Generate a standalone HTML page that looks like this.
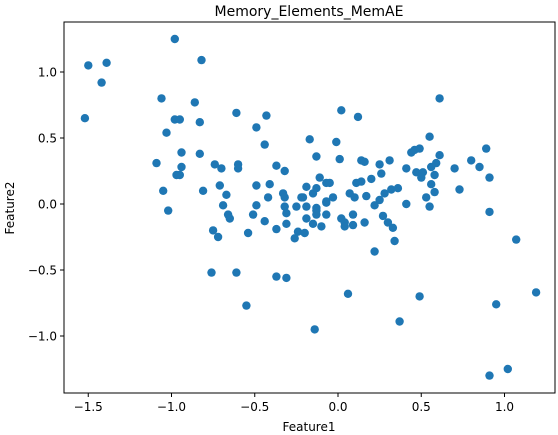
<!DOCTYPE html>
<html><head><meta charset="utf-8"><style>
html,body{margin:0;padding:0;background:#fff;}
svg{display:block;font-family:"DejaVu Sans","Liberation Sans",sans-serif;}
</style></head><body>
<svg id="chart" width="558" height="435">
  <text x="309" y="16" text-anchor="middle" font-size="14" fill="#000">Memory_Elements_MemAE</text>
  <text x="309" y="431" text-anchor="middle" font-size="12" fill="#000">Feature1</text>
  <text x="0" y="0" transform="translate(14,208) rotate(-90)" text-anchor="middle" font-size="12" fill="#000">Feature2</text>
  <g id="points"></g>
  <g id="xticks"></g>
  <g id="yticks"></g>
  <rect x="64" y="22" width="491" height="371" fill="none" stroke="#000" stroke-width="1"/>
</svg>
<script>
const xValues = [-1.50,-1.39,-1.42,-1.52,-0.98,-0.82,-1.06,-0.86,-0.98,-0.95,-0.83,-1.03,-0.61,-0.43,-0.49,-0.44,-0.17,-0.94,-0.83,-1.09,-0.94,-0.97,-0.95,-0.74,-0.70,-0.60,-0.60,-0.37,-0.32,-1.05,-0.81,-0.71,-0.67,-0.49,-0.41,-0.42,-0.33,-0.32,-0.22,-0.19,-0.69,-0.49,-0.32,-0.25,-0.19,-1.02,-0.51,-0.66,-0.65,-0.44,-0.31,-0.19,-0.31,-0.37,-0.54,-0.75,-0.72,-0.24,-0.26,-0.20,-0.76,-0.61,-0.37,-0.31,-0.55,-0.14,-0.13,-0.01,0.01,-0.15,-0.13,-0.11,-0.07,-0.03,-0.07,-0.13,-0.13,-0.10,-0.07,0.02,0.61,0.02,0.12,0.14,0.16,0.25,0.26,0.31,0.41,0.55,0.44,0.46,0.49,0.61,0.59,0.56,0.47,0.51,0.50,0.58,0.56,0.58,0.53,0.55,0.70,0.80,0.85,0.89,0.91,0.73,0.91,0.41,-0.21,-0.07,0.07,0.10,0.11,0.14,0.20,0.17,0.22,0.25,0.28,0.32,0.36,1.07,-0.15,0.04,0.04,0.09,0.09,0.16,0.27,0.30,0.33,0.34,0.22,0.06,0.49,0.37,0.95,1.19,0.91,1.02,-0.05,-0.13];
const yValues = [1.05,1.07,0.92,0.65,1.25,1.09,0.80,0.77,0.64,0.64,0.62,0.54,0.69,0.67,0.58,0.45,0.49,0.39,0.38,0.31,0.28,0.22,0.22,0.30,0.27,0.30,0.27,0.29,0.25,0.10,0.10,0.14,0.07,0.14,0.15,0.05,0.08,0.05,0.05,0.13,-0.01,-0.01,-0.02,-0.02,-0.02,-0.05,-0.08,-0.08,-0.11,-0.13,-0.07,-0.11,-0.15,-0.19,-0.22,-0.20,-0.25,-0.21,-0.26,-0.22,-0.52,-0.52,-0.55,-0.56,-0.77,-0.95,0.36,0.47,0.34,0.08,0.12,0.20,0.16,0.05,0.02,-0.05,-0.08,-0.17,-0.08,-0.11,0.80,0.71,0.66,0.33,0.32,0.30,0.23,0.33,0.27,0.51,0.39,0.41,0.42,0.37,0.31,0.28,0.24,0.24,0.20,0.22,0.15,0.09,0.05,-0.02,0.27,0.33,0.28,0.42,0.20,0.11,-0.06,0.00,0.05,0.01,0.08,0.05,0.16,0.17,0.19,0.06,-0.01,0.03,0.08,0.11,0.12,-0.27,-0.15,-0.14,-0.17,-0.16,-0.08,-0.14,-0.09,-0.14,-0.18,-0.28,-0.36,-0.68,-0.70,-0.89,-0.76,-0.67,-1.30,-1.25,0.16,-0.03];
const xTickValues = [-1.5,-1.0,-0.5,0.0,0.5,1.0];
const xTickLabels = ["\u22121.5","\u22121.0","\u22120.5","0.0","0.5","1.0"];
const yTickValues = [1.0,0.5,0.0,-0.5,-1.0];
const yTickLabels = ["1.0","0.5","0.0","\u22120.5","\u22121.0"];

const NS = "http://www.w3.org/2000/svg";
function sx(v){ return 338 + v*166.5; }
function sy(v){ return 204 - v*132; }
const pts = document.getElementById('points');
for (let i=0;i<xValues.length;i++){
  const c = document.createElementNS(NS,'circle');
  c.setAttribute('cx', sx(xValues[i]).toFixed(1));
  c.setAttribute('cy', sy(yValues[i]).toFixed(1));
  c.setAttribute('r', 4.2);
  c.setAttribute('fill', '#1f77b4');
  
  
  pts.appendChild(c);
}
const xg = document.getElementById('xticks');
xTickValues.forEach((v,i)=>{
  const x = sx(v);
  const l = document.createElementNS(NS,'line');
  l.setAttribute('x1',x); l.setAttribute('x2',x);
  l.setAttribute('y1',393); l.setAttribute('y2',397);
  l.setAttribute('stroke','#000');
  
  
  xg.appendChild(l);
  const t = document.createElementNS(NS,'text');
  t.setAttribute('x',x); t.setAttribute('y',411);
  t.setAttribute('text-anchor','middle'); t.setAttribute('font-size','12');
  t.textContent = xTickLabels[i];
  
  
  xg.appendChild(t);
});
const yg = document.getElementById('yticks');
yTickValues.forEach((v,i)=>{
  const y = sy(v);
  const l = document.createElementNS(NS,'line');
  l.setAttribute('x1',60); l.setAttribute('x2',64);
  l.setAttribute('y1',y); l.setAttribute('y2',y);
  l.setAttribute('stroke','#000');
  
  
  yg.appendChild(l);
  const t = document.createElementNS(NS,'text');
  t.setAttribute('x',57); t.setAttribute('y',y+4.5);
  t.setAttribute('text-anchor','end'); t.setAttribute('font-size','12');
  t.textContent = yTickLabels[i];
  
  
  yg.appendChild(t);
});
</script>
</body></html>
